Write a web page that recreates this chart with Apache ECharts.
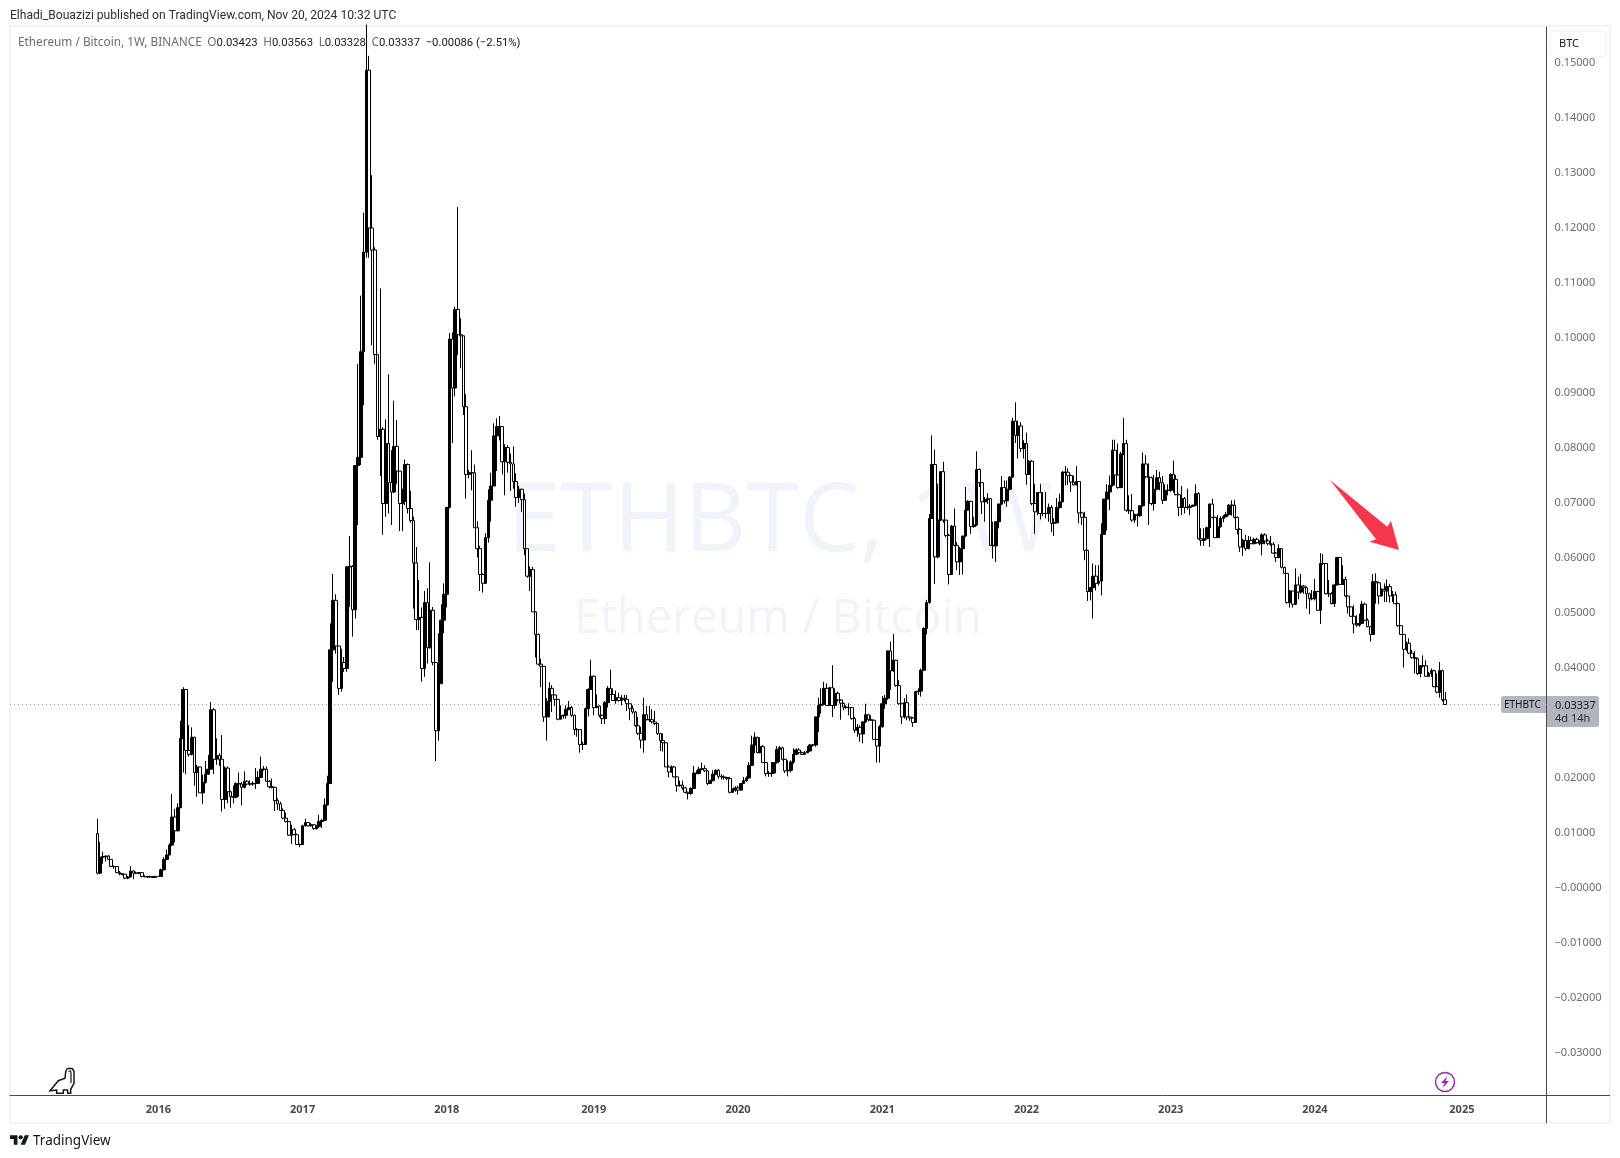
<!DOCTYPE html>
<html><head><meta charset="utf-8">
<style>html,body{margin:0;padding:0;background:#fff}#c{width:1620px;height:1158px}</style>
<script src="https://cdn.jsdelivr.net/npm/echarts@6/dist/echarts.min.js"></script>
</head><body><div id="c"></div>
<script>
const firstWeek = '2015-08-03';
const leadingWeeks = 31, totalWeeks = 554;
const firstOpen = .0099;
const closes = [
.0027,.0056,.0057,.0058,.0052,.0039,.0039,.0028,.0026,.0025,
.0018,.0020,.0031,.0027,.0027,.0028,.0021,.0021,.0020,.0021,
.0019,.0021,.0021,.0033,.0052,.0060,.0078,.0129,.0104,.0146,
.0272,.0361,.0250,.0243,.0274,.0210,.0220,.0173,.0192,.0207,
.0216,.0324,.0234,.0241,.0234,.0161,.0218,.0175,.0166,.0165,
.0190,.0189,.0183,.0194,.0189,.0189,.0190,.0190,.0201,.0216,
.0216,.0194,.0184,.0183,.0159,.0153,.0141,.0127,.0121,.0096,
.0106,.0097,.0079,.0079,.0113,.0119,.0113,.0115,.0108,.0112,
.0121,.0123,.0151,.0190,.0433,.0523,.0440,.0363,.0410,.0399,
.0584,.0585,.0506,.0768,.0783,.0975,.1156,.1487,.1200,.1160,
.0970,.0821,.0834,.0699,.0808,.0737,.0720,.0803,.0758,.0699,
.0703,.0770,.0690,.0668,.0591,.0488,.0492,.0399,.0519,.0437,
.0505,.0410,.0286,.0372,.0487,.0534,.0692,.0998,.0909,.1052,
.1006,.1004,.0875,.0752,.0755,.0755,.0655,.0617,.0570,.0554,
.0637,.0705,.0731,.0822,.0839,.0839,.0775,.0801,.0774,.0771,
.0739,.0710,.0725,.0706,.0617,.0567,.0579,.0502,.0461,.0407,
.0403,.0311,.0339,.0363,.0351,.0343,.0307,.0313,.0314,.0325,
.0328,.0314,.0288,.0288,.0261,.0261,.0326,.0361,.0385,.0328,
.0331,.0314,.0308,.0337,.0363,.0352,.0341,.0346,.0341,.0345,
.0343,.0335,.0326,.0320,.0295,.0281,.0269,.0315,.0306,.0306,
.0302,.0299,.0281,.0268,.0264,.0220,.0211,.0220,.0202,.0186,
.0187,.0182,.0174,.0172,.0181,.0209,.0208,.0216,.0217,.0213,
.0190,.0195,.0207,.0214,.0203,.0202,.0201,.0199,.0174,.0178,
.0182,.0178,.0190,.0195,.0200,.0223,.0260,.0274,.0246,.0257,
.0228,.0208,.0208,.0209,.0228,.0252,.0255,.0234,.0213,.0214,
.0229,.0243,.0251,.0246,.0243,.0246,.0249,.0260,.0260,.0311,
.0332,.0334,.0363,.0332,.0364,.0332,.0354,.0342,.0336,.0329,
.0328,.0328,.0308,.0287,.0292,.0280,.0302,.0315,.0306,.0305,
.0270,.0258,.0293,.0335,.0345,.0431,.0395,.0414,.0368,.0335,
.0311,.0337,.0311,.0309,.0301,.0357,.0358,.0396,.0472,.0519,
.0672,.0770,.0602,.0669,.0757,.0669,.0641,.0570,.0658,.0623,
.0593,.0617,.0640,.0687,.0703,.0657,.0660,.0761,.0737,.0702,
.0706,.0708,.0623,.0622,.0666,.0698,.0728,.0704,.0725,.0747,
.0849,.0823,.0840,.0799,.0808,.0752,.0776,.0699,.0684,.0719,
.0681,.0681,.0681,.0692,.0663,.0664,.0692,.0702,.0756,.0756,
.0750,.0738,.0733,.0739,.0682,.0674,.0614,.0539,.0546,.0567,
.0554,.0558,.0643,.0707,.0720,.0732,.0796,.0751,.0728,.0789,
.0808,.0687,.0686,.0669,.0679,.0677,.0695,.0771,.0748,.0746,
.0699,.0725,.0746,.0737,.0705,.0723,.0723,.0752,.0743,.0715,
.0692,.0708,.0692,.0692,.0694,.0696,.0717,.0635,.0632,.0635,
.0655,.0698,.0674,.0637,.0657,.0672,.0675,.0679,.0696,.0696,
.0674,.0652,.0620,.0632,.0617,.0632,.0626,.0634,.0628,.0626,
.0642,.0631,.0626,.0625,.0609,.0601,.0617,.0583,.0572,.0519,
.0540,.0516,.0551,.0538,.0549,.0546,.0535,.0526,.0526,.0539,
.0505,.0590,.0590,.0535,.0535,.0517,.0551,.0601,.0552,.0561,
.0531,.0511,.0494,.0480,.0478,.0481,.0516,.0487,.0475,.0461,
.0557,.0555,.0531,.0543,.0540,.0548,.0531,.0533,.0517,.0477,
.0461,.0434,.0445,.0427,.0419,.0417,.0390,.0404,.0404,.0385,
.0390,.0395,.0366,.0356,.0395,.03423,.03337];
const highs = [
.0126,.0084,.0066,.0059,.0060,.0052,.0041,.0039,.0031,.0027,
.0025,.0022,.0040,.0032,.0030,.0029,.0028,.0023,.0022,.0022,
.0021,.0022,.0022,.0035,.0056,.0070,.0081,.0171,.0144,.0154,
.0304,.0365,.0361,.0296,.0292,.0275,.0224,.0221,.0206,.0231,
.0242,.0338,.0327,.0272,.0245,.0278,.0221,.0221,.0177,.0186,
.0192,.0210,.0193,.0212,.0196,.0196,.0194,.0218,.0213,.0239,
.0222,.0221,.0196,.0199,.0184,.0163,.0157,.0145,.0137,.0122,
.0115,.0109,.0099,.0081,.0115,.0126,.0120,.0118,.0114,.0114,
.0133,.0125,.0163,.0204,.0481,.0571,.0534,.0440,.0435,.0420,
.0585,.0640,.0587,.0769,.0953,.1077,.1228,.1570,.1513,.1296,
.1165,.0970,.1090,.0838,.0852,.0934,.0796,.0886,.0851,.0758,
.0726,.0779,.0772,.0722,.0675,.0620,.0560,.0510,.0540,.0545,
.0592,.0511,.0410,.0463,.0516,.0554,.0693,.1009,.1010,.1057,
.1238,.1036,.1004,.0898,.0760,.0796,.0770,.0667,.0622,.0572,
.0645,.0725,.0755,.0845,.0854,.0858,.0839,.0807,.0805,.0790,
.0803,.0754,.0731,.0726,.0717,.0617,.0585,.0584,.0503,.0463,
.0417,.0403,.0345,.0374,.0369,.0352,.0342,.0332,.0315,.0332,
.0340,.0331,.0315,.0291,.0288,.0266,.0328,.0363,.0415,.0386,
.0352,.0332,.0315,.0340,.0367,.0397,.0363,.0359,.0355,.0351,
.0351,.0351,.0335,.0332,.0322,.0311,.0293,.0346,.0331,.0331,
.0325,.0322,.0299,.0281,.0281,.0265,.0223,.0223,.0222,.0203,
.0195,.0195,.0184,.0175,.0183,.0222,.0214,.0220,.0228,.0223,
.0214,.0197,.0214,.0216,.0216,.0207,.0205,.0202,.0202,.0181,
.0185,.0186,.0191,.0202,.0203,.0229,.0277,.0283,.0275,.0274,
.0260,.0229,.0213,.0229,.0229,.0258,.0258,.0257,.0235,.0232,
.0232,.0254,.0254,.0254,.0248,.0249,.0258,.0262,.0262,.0312,
.0346,.0363,.0375,.0372,.0366,.0405,.0363,.0357,.0340,.0337,
.0332,.0336,.0328,.0311,.0298,.0296,.0303,.0335,.0317,.0314,
.0306,.0271,.0296,.0349,.0351,.0432,.0448,.0462,.0415,.0378,
.0337,.0345,.0352,.0312,.0311,.0358,.0363,.0399,.0474,.0524,
.0680,.0823,.0797,.0735,.0757,.0775,.0669,.0644,.0660,.0690,
.0629,.0620,.0640,.0729,.0705,.0704,.0675,.0794,.0763,.0738,
.0711,.0718,.0709,.0666,.0667,.0699,.0749,.0741,.0741,.0749,
.0855,.0883,.0850,.0847,.0814,.0828,.0778,.0778,.0735,.0720,
.0735,.0720,.0720,.0699,.0696,.0672,.0709,.0717,.0758,.0767,
.0763,.0752,.0750,.0767,.0740,.0684,.0684,.0615,.0547,.0590,
.0587,.0587,.0663,.0708,.0734,.0750,.0815,.0815,.0808,.0793,
.0855,.0815,.0714,.0716,.0681,.0681,.0696,.0792,.0787,.0772,
.0748,.0751,.0760,.0757,.0749,.0734,.0734,.0754,.0777,.0751,
.0717,.0731,.0711,.0726,.0698,.0697,.0734,.0720,.0654,.0654,
.0657,.0699,.0708,.0675,.0678,.0676,.0678,.0684,.0698,.0705,
.0706,.0675,.0654,.0635,.0642,.0640,.0639,.0637,.0637,.0632,
.0645,.0645,.0635,.0640,.0629,.0611,.0625,.0618,.0584,.0573,
.0542,.0540,.0581,.0566,.0571,.0551,.0548,.0537,.0542,.0562,
.0540,.0609,.0607,.0591,.0560,.0538,.0552,.0602,.0602,.0587,
.0566,.0532,.0512,.0514,.0496,.0499,.0522,.0519,.0490,.0476,
.0571,.0572,.0557,.0545,.0554,.0561,.0553,.0540,.0539,.0519,
.0478,.0462,.0448,.0454,.0433,.0431,.0419,.0405,.0423,.0414,
.0393,.0399,.0397,.0390,.0411,.0397,.03563];
const lows = [
.0025,.0025,.0044,.0048,.0051,.0038,.0035,.0027,.0023,.0023,
.0016,.0016,.0020,.0016,.0025,.0025,.0019,.0019,.0018,.0018,
.0018,.0019,.0020,.0020,.0032,.0051,.0060,.0076,.0083,.0103,
.0145,.0210,.0207,.0239,.0241,.0186,.0166,.0173,.0153,.0190,
.0206,.0215,.0207,.0224,.0222,.0139,.0144,.0154,.0146,.0154,
.0163,.0166,.0150,.0181,.0187,.0186,.0186,.0180,.0189,.0200,
.0213,.0193,.0181,.0181,.0140,.0142,.0141,.0126,.0119,.0095,
.0080,.0096,.0078,.0074,.0079,.0112,.0112,.0112,.0106,.0106,
.0109,.0109,.0122,.0150,.0189,.0375,.0426,.0351,.0357,.0393,
.0393,.0511,.0457,.0490,.0660,.0769,.0878,.1146,.1146,.0987,
.0953,.0815,.0749,.0642,.0675,.0681,.0660,.0718,.0735,.0649,
.0649,.0696,.0681,.0664,.0508,.0469,.0469,.0375,.0384,.0408,
.0435,.0405,.0231,.0268,.0370,.0463,.0510,.0690,.0809,.0894,
.0969,.0945,.0860,.0708,.0745,.0723,.0655,.0601,.0540,.0537,
.0569,.0628,.0666,.0759,.0758,.0814,.0752,.0714,.0755,.0722,
.0726,.0693,.0700,.0684,.0605,.0564,.0540,.0502,.0419,.0405,
.0365,.0302,.0268,.0310,.0320,.0331,.0305,.0307,.0308,.0308,
.0323,.0311,.0278,.0275,.0246,.0251,.0260,.0312,.0360,.0314,
.0327,.0310,.0298,.0298,.0328,.0351,.0340,.0335,.0339,.0332,
.0339,.0322,.0305,.0317,.0293,.0278,.0254,.0246,.0305,.0302,
.0299,.0296,.0278,.0249,.0248,.0220,.0201,.0209,.0201,.0175,
.0184,.0178,.0172,.0161,.0169,.0181,.0207,.0207,.0214,.0211,
.0187,.0190,.0194,.0205,.0199,.0197,.0197,.0196,.0172,.0173,
.0175,.0170,.0177,.0189,.0193,.0199,.0222,.0245,.0245,.0245,
.0228,.0203,.0202,.0202,.0207,.0226,.0229,.0232,.0209,.0203,
.0210,.0226,.0242,.0243,.0242,.0242,.0245,.0248,.0257,.0257,
.0284,.0317,.0332,.0331,.0331,.0311,.0326,.0339,.0306,.0323,
.0326,.0314,.0306,.0282,.0275,.0266,.0263,.0300,.0303,.0304,
.0269,.0228,.0228,.0292,.0326,.0342,.0360,.0393,.0366,.0333,
.0298,.0308,.0305,.0304,.0293,.0300,.0351,.0348,.0395,.0461,
.0517,.0672,.0553,.0599,.0667,.0664,.0638,.0552,.0569,.0621,
.0578,.0569,.0570,.0638,.0686,.0644,.0655,.0658,.0729,.0680,
.0666,.0698,.0622,.0599,.0593,.0654,.0696,.0699,.0693,.0723,
.0746,.0809,.0781,.0793,.0781,.0733,.0751,.0696,.0644,.0678,
.0670,.0676,.0672,.0666,.0647,.0640,.0663,.0690,.0702,.0732,
.0733,.0720,.0732,.0732,.0663,.0660,.0596,.0522,.0523,.0490,
.0541,.0550,.0532,.0643,.0650,.0687,.0730,.0732,.0726,.0727,
.0787,.0684,.0680,.0666,.0664,.0657,.0675,.0693,.0745,.0660,
.0696,.0686,.0723,.0723,.0698,.0704,.0714,.0720,.0719,.0714,
.0676,.0678,.0681,.0688,.0678,.0693,.0694,.0634,.0622,.0622,
.0634,.0620,.0672,.0637,.0637,.0655,.0665,.0674,.0677,.0677,
.0672,.0643,.0611,.0604,.0613,.0616,.0625,.0625,.0626,.0623,
.0605,.0625,.0623,.0622,.0608,.0593,.0600,.0581,.0571,.0517,
.0510,.0510,.0515,.0525,.0535,.0535,.0508,.0498,.0523,.0523,
.0504,.0480,.0587,.0534,.0529,.0516,.0511,.0550,.0551,.0551,
.0529,.0499,.0493,.0463,.0475,.0475,.0480,.0486,.0474,.0448,
.0460,.0517,.0516,.0530,.0520,.0520,.0519,.0520,.0516,.0475,
.0460,.0401,.0431,.0425,.0417,.0390,.0387,.0383,.0401,.0384,
.0384,.0384,.0365,.0354,.0346,.0339,.03328];
const priceTicks = [-0.03,-0.02,-0.01,0,0.01,0.02,0.03,0.04,0.05,0.06,0.07,0.08,0.09,0.10,0.11,0.12,0.13,0.14,0.15];
const yMin = -0.03764, yMax = 0.15655;
const symbolName = 'ETHBTC', countdown = '4d 14h';

const weekMs = 7 * 864e5;
const start = Date.parse(firstWeek + 'T00:00:00Z') - leadingWeeks * weekMs;
const categories = [];
for (let k = 0; k < totalWeeks; k++) categories.push(new Date(start + k * weekMs).toISOString().slice(0, 10));
const isYearStart = v => v.slice(5, 7) === '01' && +v.slice(8, 10) <= 7 && v.slice(0, 4) !== '2015';

const candles = closes.map((c, i) => [i + leadingWeeks, i ? closes[i - 1] : firstOpen, c, lows[i], highs[i]]);
const last = closes[closes.length - 1];

const FONT = '"Noto Sans", sans-serif';
const SLIM = 'Roboto, sans-serif';
const AX = '#4a4a4a', GREY = '#6a6d78', FRAME = '#f0f3fa', INK = '#131722';
const L = 10, R = 1546.5, T = 27, B = 1095, FR = 1610, FB = 1123;

const chart = echarts.init(document.getElementById('c'), null, {renderer: 'canvas'});
chart.setOption({
  animation: false,
  backgroundColor: '#fff',
  grid: {left: L, top: T, width: R - L, height: B - T, containLabel: false},
  xAxis: {
    type: 'category', data: categories, boundaryGap: true,
    axisLine: {show: true, onZero: false, lineStyle: {color: AX, width: 1}},
    axisTick: {show: false}, splitLine: {show: false},
    axisLabel: {
      interval: (i, v) => isYearStart(v),
      formatter: v => v.slice(0, 4),
      color: AX, fontFamily: FONT, fontSize: 11, fontWeight: 'bold', margin: 9, hideOverlap: false
    }
  },
  yAxis: {
    type: 'value', position: 'right', min: yMin, max: yMax, scale: true,
    axisLine: {show: true, onZero: false, lineStyle: {color: AX, width: 1}},
    axisTick: {show: false}, splitLine: {show: false},
    axisLabel: {
      customValues: priceTicks, margin: 8, color: GREY, fontFamily: FONT, fontSize: 11, padding: [4, 0, 0, 0],
      formatter: v => (v <= 0 ? '\u2212' : '') + Math.abs(v).toFixed(5)
    }
  },
  series: [{
    type: 'candlestick', data: candles, clip: true, barWidth: 3.2, z: 2,
    encode: {x: 0, y: [1, 2, 3, 4]},
    itemStyle: {color: '#000', color0: '#fff', borderColor: '#000', borderColor0: '#000', borderWidth: 1}
  }],
  graphic: {elements: []}
});

const yLast = Math.round(chart.convertToPixel({yAxisIndex: 0}, last)) + .5;
const txt = (x, y, text, o) => ({type: 'text', x, y, z: 100, silent: true,
  style: Object.assign({text, fill: GREY, font: '11px ' + FONT, textVerticalAlign: 'middle'}, o || {})});
const dinoOutline = [[50,1090.7],[58.3,1080.7],[65,1078.3],[65.7,1071.7],[67,1069],[69.3,1068.3],[72.5,1068.8],[74,1071.5],[74,1083.3],[70.7,1089.3],[70.7,1093.3],[67.8,1093.3],[67.5,1090],[63.3,1090],[63.3,1093.3],[56.7,1093.3],[56.7,1090]];
const dinoNeck = [[68.5,1071.5],[70.5,1071],[71,1073],[71,1083]];
const logoT = [[0,4],[14,4],[14,22],[7,22],[7,11],[0,11]];
const logoSlash = [[28,22],[20,22],[27.5,4],[35.5,4]];
const logoK = .535, logoX = 10, logoY = 1133;
const logoPts = pts => pts.map(p => [logoX + p[0] * logoK, logoY + p[1] * logoK]);
const G = '11.8px ' + FONT, K = '11.3px ' + SLIM;

chart.setOption({graphic: {elements: [
  {type: 'rect', z: -5, silent: true, shape: {x: L, y: T - 1, width: FR - L, height: FB - T + 1},
    style: {fill: 'none', stroke: FRAME, lineWidth: 2}},
  {type: 'line', z: 90, silent: true, shape: {x1: R, y1: B, x2: R, y2: FB}, style: {stroke: AX, lineWidth: 1}},
  {type: 'line', z: 90, silent: true, shape: {x1: R, y1: B + .5, x2: FR, y2: B + .5}, style: {stroke: AX, lineWidth: 1}},
  {type: 'line', z: 1, silent: true, shape: {x1: L, y1: yLast, x2: R, y2: yLast},
    style: {stroke: '#9598a1', lineWidth: 1, lineDash: [1, 3]}},
  {type: 'text', z: -1, silent: true, x: 780, y: 524,
    style: {text: 'ETHBTC, 1W', fill: '#f0f3fa', font: '96px "Open Sans", sans-serif', textAlign: 'center', textVerticalAlign: 'middle'}},
  {type: 'text', z: -1, silent: true, x: 778, y: 620,
    style: {text: 'Ethereum / Bitcoin', fill: '#f0f3fa', font: '47px "Open Sans", sans-serif', textAlign: 'center', textVerticalAlign: 'middle'}},
  txt(10, 16, 'Elhadi_Bouazizi published on TradingView.com, Nov 20, 2024 10:32 UTC', {fill: '#2a2e39', font: '12.1px ' + SLIM}),
  {type: 'text', z: 100, silent: true, x: 18, y: 43, style: {
    text: '{g|Ethereum / Bitcoin, 1W, BINANCE}  {g|O}{k|0.03423}  {g|H}{k|0.03563}  {g|L}{k|0.03328}  {g|C}{k|0.03337}  {k|\u22120.00086 (\u22122.51%)}',
    textVerticalAlign: 'middle', font: K,
    rich: {g: {fill: GREY, font: G}, k: {fill: '#131722', font: K}}
  }},
  {type: 'rect', z: 100, silent: true, shape: {x: 1550, y: 31, width: 56, height: 26, r: 4},
    style: {fill: '#fff', stroke: FRAME, lineWidth: 1.5}},
  txt(1559, 44, 'BTC', {fill: INK}),
  {type: 'polygon', z: 50, silent: true,
    shape: {points: [[1330, 480], [1387.3, 526.7], [1391, 521], [1399, 550], [1369.3, 541.7], [1376, 539.3]]},
    style: {fill: '#f5374c'}},
  {type: 'rect', z: 100, silent: true, shape: {x: 1501, y: yLast - 8.5, width: 45, height: 17, r: [3, 0, 0, 3]}, style: {fill: '#b2b5be'}},
  txt(1504, yLast + 1, symbolName, {fill: INK, font: '10px ' + FONT}),
  {type: 'rect', z: 100, silent: true, shape: {x: 1547, y: yLast - 8.5, width: 52, height: 31, r: [0, 3, 3, 0]}, style: {fill: '#b2b5be'}},
  txt(1555, yLast + 1, last.toFixed(5), {fill: INK}),
  txt(1555, yLast + 14, countdown, {fill: '#2a2e39'}),
  {type: 'polygon', z: 100, silent: true, shape: {points: dinoOutline}, style: {fill: 'none', stroke: INK, lineWidth: 1.5}},
  {type: 'polyline', z: 100, silent: true, shape: {points: dinoNeck}, style: {fill: 'none', stroke: INK, lineWidth: 1.2}},
  {type: 'circle', z: 100, silent: true, shape: {cx: 1445, cy: 1082, r: 9.5}, style: {fill: '#fff', stroke: '#9c27b0', lineWidth: 1.5}},
  {type: 'polygon', z: 101, silent: true, shape: {points: [[1447.5, 1076], [1441, 1083], [1444.5, 1083], [1442.5, 1088], [1449, 1081], [1445.5, 1081]]}, style: {fill: '#9c27b0'}},
  {type: 'polygon', z: 100, silent: true, shape: {points: logoPts(logoT)}, style: {fill: INK}},
  {type: 'polygon', z: 100, silent: true, shape: {points: logoPts(logoSlash)}, style: {fill: INK}},
  {type: 'circle', z: 100, silent: true, shape: {cx: logoX + 20 * logoK, cy: logoY + 8 * logoK, r: 4 * logoK}, style: {fill: INK}},
  txt(33, 1141, 'TradingView', {fill: INK, font: '13.5px ' + FONT})
]}});
</script></body></html>
